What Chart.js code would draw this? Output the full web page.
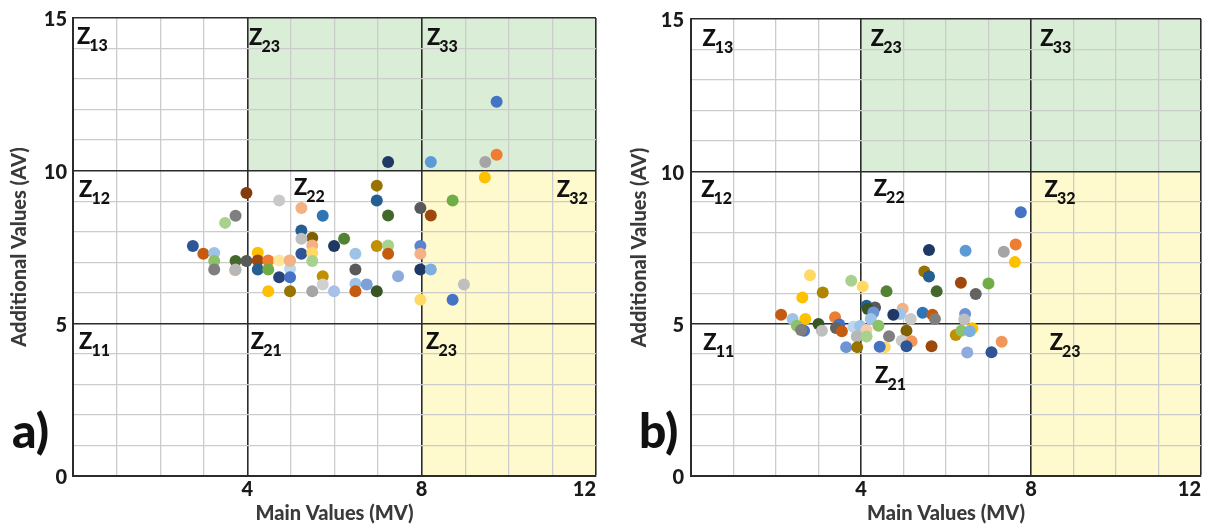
<!DOCTYPE html>
<html>
<head>
<meta charset="utf-8">
<script src="https://cdn.jsdelivr.net/npm/chart.js@4"></script>
<style>
  body { margin: 0; background: #fff; }
  #wrap { position: relative; width: 1213px; height: 526px; overflow: hidden; }
  #chartA { position: absolute; left: 0; top: 0; }
  #chartB { position: absolute; left: 606px; top: 0; }
</style>
</head>
<body>
<div id="wrap">
  <canvas id="chartA" width="606" height="526"></canvas>
  <canvas id="chartB" width="607" height="526"></canvas>
</div>
<script>
// panel a) - main values (x) and additional values (y)
var mvA = [3.98, 4.73, 5.24, 5.73, 3.73, 3.49, 2.75, 2.99, 3.24, 3.24, 3.24, 3.73, 3.72, 3.73, 3.98,
  4.24, 4.24, 4.24, 4.48, 4.48, 4.73, 4.98, 4.98, 4.97, 4.73, 4.98, 4.48, 4.98, 5.49, 5.99,
  5.24, 5.49, 5.24, 5.49, 5.24, 5.49, 5.49, 5.99, 6.22, 5.73, 5.73, 6.97, 6.97, 7.23, 7.97,
  8.21, 8.71, 9.45, 6.48, 6.97, 7.23, 7.23, 6.48, 6.48, 6.74, 6.48, 6.97, 7.46, 7.97, 7.97,
  7.97, 8.21, 8.97, 7.97, 8.71, 7.23, 8.21, 9.46, 9.72, 9.72];
var avA = [9.27, 9.02, 8.78, 8.52, 8.52, 8.29, 7.53, 7.28, 7.30, 7.04, 6.76, 7.04, 6.74, 6.76, 7.04,
  7.31, 7.06, 6.76, 7.06, 6.76, 7.06, 6.79, 7.05, 7.06, 6.51, 6.51, 6.05, 6.05, 6.05, 6.05,
  8.04, 7.80, 7.77, 7.55, 7.28, 7.30, 7.04, 7.53, 7.77, 6.54, 6.27, 9.51, 9.02, 8.53, 8.78,
  8.53, 9.02, 9.78, 7.28, 7.53, 7.55, 7.28, 6.76, 6.30, 6.27, 6.05, 6.05, 6.54, 7.53, 7.28,
  6.76, 6.76, 6.27, 5.77, 5.77, 10.28, 10.28, 10.28, 10.52, 12.26];

// panel b)
var mvB = [7.76, 5.60, 6.46, 7.36, 7.64, 7.62, 5.49, 5.60, 6.35, 7.00, 5.78, 6.70, 4.60, 4.98, 4.92,
  4.76, 5.17, 5.45, 5.68, 5.74, 6.45, 6.43, 5.07, 4.66, 4.96, 5.19, 5.07, 5.66, 6.62, 6.23,
  6.36, 6.56, 6.50, 7.07, 7.31, 4.56, 4.44, 2.80, 3.77, 4.04, 2.62, 3.10, 2.12, 2.39, 2.69,
  2.49, 2.66, 2.59, 3.00, 3.08, 3.39, 3.49, 3.41, 3.55, 3.82, 3.98, 3.90, 4.13, 4.13, 3.65,
  3.91, 4.33, 4.13, 4.16, 4.29, 4.23, 4.41];
var avB = [8.66, 7.42, 7.39, 7.36, 7.60, 7.02, 6.71, 6.55, 6.34, 6.32, 6.06, 5.97, 6.06, 5.49, 5.32,
  5.29, 5.15, 5.36, 5.29, 5.15, 5.32, 5.14, 4.77, 4.59, 4.44, 4.42, 4.26, 4.26, 4.85, 4.63,
  4.77, 4.75, 4.05, 4.06, 4.41, 4.23, 4.24, 6.59, 6.41, 6.22, 5.86, 6.02, 5.29, 5.15, 5.15,
  4.93, 4.77, 4.79, 4.99, 4.77, 5.21, 4.97, 4.86, 4.75, 4.90, 4.92, 4.58, 4.79, 4.58, 4.23,
  4.23, 5.53, 5.59, 5.48, 5.37, 5.15, 4.93];

var xTickLabels = [4, 8, 12];
var yTickLabels = [0, 5, 10, 15];
var xSplits = [4, 8];
var ySplits = [5, 10];
var zoneNames = ["13", "23", "33", "12", "22", "32", "11", "21", "23"];

// marker colours (style only)
var colorsA = ["#843C0C", "#C9C9C9", "#F4B183", "#2E75B6", "#7F7F7F", "#A9D18E", "#2F5597", "#C55A11", "#9DC3E6", "#8CC168",
  "#7F7F7F", "#43682B", "#F4B183", "#B7B7B7", "#595959", "#FFC000", "#9E480E", "#255E91", "#ED7D31", "#70AD47",
  "#FFE699", "#BDD7EE", "#A9D18E", "#F4B183", "#264478", "#4472C4", "#FFC000", "#997300", "#A5A5A5", "#A9C0E8",
  "#255E91", "#7F6000", "#BFBFBF", "#F4B183", "#2F5597", "#FFD966", "#A9D18E", "#203864", "#548235", "#BF9000",
  "#D0D0D0", "#997300", "#255E91", "#43682B", "#595959", "#9E480E", "#70AD47", "#FFC000", "#9DC3E6", "#BF9000",
  "#A9D18E", "#C55A11", "#595959", "#9DC3E6", "#7F9FD8", "#C55A11", "#375623", "#8FAADC", "#5B84D0", "#F4B183",
  "#203864", "#7CAFDD", "#BFBFBF", "#FFD966", "#4472C4", "#203864", "#5B9BD5", "#A5A5A5", "#ED7D31", "#4472C4"];
var colorsB = ["#4472C4", "#203864", "#5B9BD5", "#A5A5A5", "#ED7D31", "#FFC000", "#997300", "#255E91", "#9E480E", "#70AD47",
  "#43682B", "#636363", "#548235", "#F4B183", "#9DC3E6", "#203864", "#C9C9C9", "#2E75B6", "#C55A11", "#7F7F7F",
  "#6F94D6", "#BFBFBF", "#7F6000", "#7F7F7F", "#C9C9C9", "#F1975A", "#2F5597", "#9E480E", "#FFC000", "#BF9000",
  "#8CC168", "#7CAFDD", "#8FAADC", "#2F5597", "#F1975A", "#FFD966", "#4472C4", "#FFD966", "#A9D18E", "#FFD966",
  "#FFC000", "#AD8500", "#C55A11", "#9DC3E6", "#FFC000", "#8CC168", "#4472C4", "#7F7F7F", "#375623", "#BFBFBF",
  "#ED7D31", "#4472C4", "#636363", "#C55A11", "#BDD7EE", "#9DC3E6", "#B7B7B7", "#F8CBAD", "#A9D18E", "#6F94D6",
  "#997300", "#595959", "#255E91", "#375623", "#6F94D6", "#9DC3E6", "#8CC168"];

// where the zone names sit (value units, left of text / baseline)
var zoneSpotsA = [[0.09, 14.15], [4.04, 14.13], [8.12, 14.13], [0.14, 9.15], [5.07, 9.2], [11.1, 9.15], [0.14, 4.15], [4.08, 4.15], [8.1, 4.15]];
var zoneSpotsB = [[0.27, 14.13], [4.23, 14.13], [8.22, 14.13], [0.24, 9.15], [4.3, 9.18], [8.32, 9.15], [0.29, 4.15], [4.33, 3.06], [8.44, 4.15]];

var FONT = "Lato, 'Open Sans', sans-serif";

var zonePlugin = {
  id: "zones",
  beforeDraw: function (chart) {
    var ctx = chart.ctx;
    var x = chart.scales.x, y = chart.scales.y;
    ctx.save();
    ctx.fillStyle = "#DAEDD6";
    var x0 = x.getPixelForValue(xSplits[0]), x1 = x.getPixelForValue(12);
    ctx.fillRect(x0, y.getPixelForValue(15), x1 - x0, y.getPixelForValue(ySplits[1]) - y.getPixelForValue(15));
    ctx.fillStyle = "#FFFACD";
    var x2 = x.getPixelForValue(xSplits[1]);
    ctx.fillRect(x2, y.getPixelForValue(ySplits[1]), x1 - x2, y.getPixelForValue(0) - y.getPixelForValue(ySplits[1]));
    ctx.restore();
  },
  afterDraw: function (chart, args, opts) {
    var ctx = chart.ctx;
    var x = chart.scales.x, y = chart.scales.y;
    ctx.save();
    ctx.fillStyle = "#111";
    ctx.textBaseline = "alphabetic";
    ctx.textAlign = "left";
    opts.spots.forEach(function (s, i) {
      var px = x.getPixelForValue(s[0]);
      var py = y.getPixelForValue(s[1]);
      ctx.font = "900 22px " + FONT;
      ctx.fillText("Z", px, py);
      var w = ctx.measureText("Z").width;
      ctx.font = "900 16px " + FONT;
      ctx.fillText(zoneNames[i], px + w - 1, py + 7);
    });
    ctx.font = "900 48px " + FONT;
    ctx.fillText(opts.letter, opts.letterX, 448);
    ctx.restore();
  }
};

function makeChart(id, mv, av, colors, spots, letter, letterX, yW, titlePad, tickPad, rightPad) {
  var pts = mv.map(function (v, i) { return { x: v, y: av[i] }; });
  return new Chart(document.getElementById(id), {
    type: "scatter",
    data: {
      datasets: [{
        data: pts,
        backgroundColor: colors,
        borderWidth: 0,
        pointRadius: 6,
        pointHoverRadius: 6
      }]
    },
    options: {
      responsive: false,
      animation: false,
      devicePixelRatio: 1,
      layout: { padding: { top: 17, right: rightPad, left: 0, bottom: 0 } },
      plugins: {
        legend: { display: false },
        tooltip: { enabled: false },
        zones: { spots: spots, letter: letter, letterX: letterX }
      },
      scales: {
        x: {
          type: "linear",
          min: 0, max: 12,
          afterFit: function (s) { s.height = 50; },
          ticks: {
            stepSize: 1, autoSkip: false, maxRotation: 0, padding: 2, align: "inner",
            color: "#1a1a1a",
            font: { family: FONT, weight: "900", size: 20 },
            callback: function (v) { return xTickLabels.indexOf(v) >= 0 ? String(v) : ""; }
          },
          grid: {
            drawTicks: false,
            color: function (c) { return (xSplits.indexOf(c.tick.value) >= 0 || c.tick.value === 12) ? "#2b2b2b" : "#cccccc"; },
            lineWidth: function (c) { return (xSplits.indexOf(c.tick.value) >= 0 || c.tick.value === 12) ? 1.6 : 1.3; }
          },
          border: { color: "#2b2b2b", width: 2 },
          title: {
            display: true, text: "Main Values (MV)", color: "#3a3a3a",
            font: { family: FONT, weight: "900", size: 20 },
            padding: { top: 0, bottom: 0 }
          }
        },
        y: {
          type: "linear",
          min: 0, max: 15,
          afterFit: function (s) { s.width = yW; },
          ticks: {
            stepSize: 1, autoSkip: false, padding: tickPad, labelOffset: 2,
            color: "#1a1a1a",
            font: { family: FONT, weight: "900", size: 20 },
            callback: function (v) { return yTickLabels.indexOf(v) >= 0 ? String(v) : ""; }
          },
          grid: {
            drawTicks: false,
            color: function (c) { return (ySplits.indexOf(c.tick.value) >= 0 || c.tick.value === 15) ? "#2b2b2b" : "#cccccc"; },
            lineWidth: function (c) { return (ySplits.indexOf(c.tick.value) >= 0 || c.tick.value === 15) ? 1.6 : 1.3; }
          },
          border: { color: "#2b2b2b", width: 2 },
          title: {
            display: true, text: "Additional Values (AV)", color: "#3a3a3a",
            font: { family: FONT, weight: "900", size: 20 },
            padding: { top: titlePad, bottom: 0 }
          }
        }
      }
    },
    plugins: [zonePlugin]
  });
}

makeChart("chartA", mvA, avA, colorsA, zoneSpotsA, "a)", 12, 73, 8, 6, 10);
makeChart("chartB", mvB, avB, colorsB, zoneSpotsB, "b)", 33, 85, 22, 7, 12);
</script>
</body>
</html>
